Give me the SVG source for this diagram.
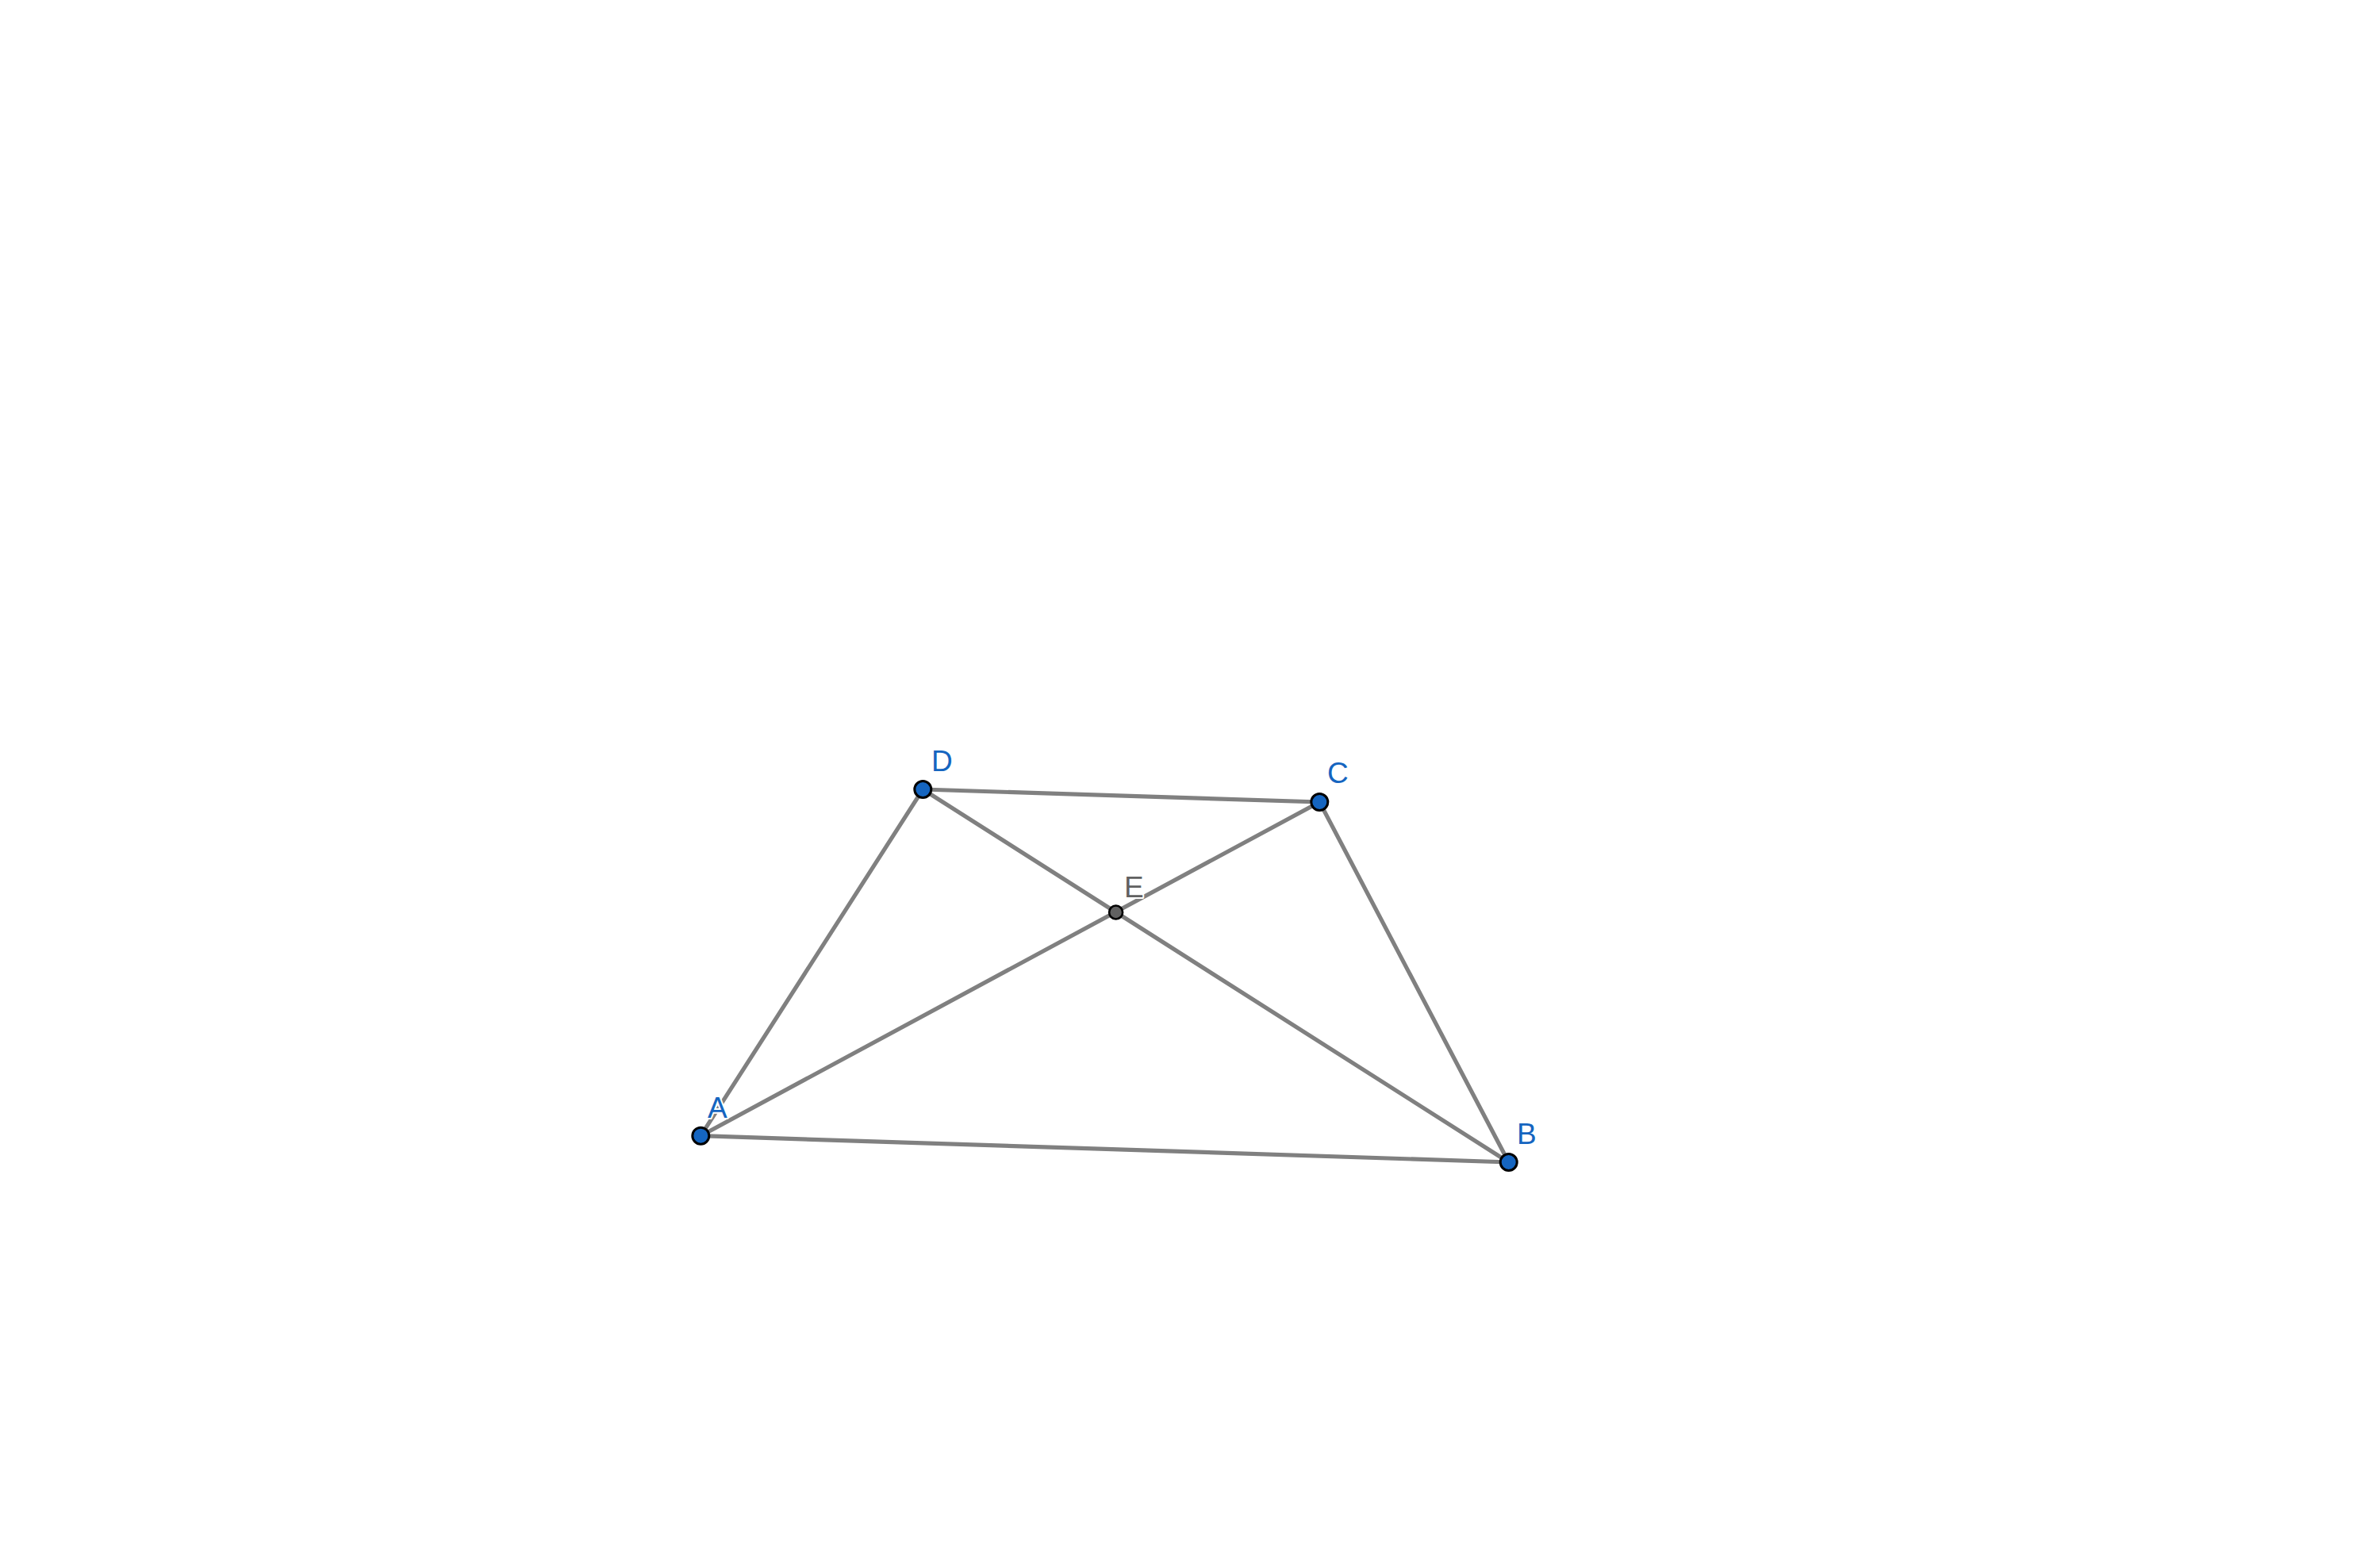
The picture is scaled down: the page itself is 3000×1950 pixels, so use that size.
<svg xmlns="http://www.w3.org/2000/svg" width="3000" height="1950" viewBox="0 0 3000 1950">
<style>
.seg{stroke:#808080;stroke-width:5.2;stroke-linecap:round;fill:none}
.pt{fill:#1565c0;stroke:#000;stroke-width:3}
.pte{fill:#616161;stroke:#000;stroke-width:2.6}
.lbl{font-family:"Liberation Sans",Arial,sans-serif;font-size:37px;fill:#1565c0;stroke:#fff;stroke-width:4;paint-order:stroke;stroke-linejoin:round}
.lble{fill:#616161}
</style>
<rect width="3000" height="1950" fill="#fff"/>
<g id="connectors">
<line class="seg" x1="883.3" y1="1431.7" x2="1163.3" y2="995"/>
<line class="seg" x1="1163.3" y1="995" x2="1663.3" y2="1011"/>
<line class="seg" x1="1663.3" y1="1011" x2="1901.7" y2="1465"/>
<line class="seg" x1="883.3" y1="1431.7" x2="1901.7" y2="1465"/>
<line class="seg" x1="883.3" y1="1431.7" x2="1663.3" y2="1011"/>
<line class="seg" x1="1163.3" y1="995" x2="1901.7" y2="1465"/>
</g>
<g id="E">
<circle class="pte" cx="1406.6" cy="1150" r="8.5"/>
<text class="lbl lble" x="1417" y="1131">E</text>
</g>
<g id="A">
<circle class="pt" cx="883.3" cy="1431.7" r="10.5"/>
<text class="lbl" x="892" y="1409">A</text>
</g>
<g id="B">
<circle class="pt" cx="1901.7" cy="1465" r="10.5"/>
<text class="lbl" x="1912" y="1442">B</text>
</g>
<g id="C">
<circle class="pt" cx="1663.3" cy="1011" r="10.5"/>
<text class="lbl" x="1673" y="987">C</text>
</g>
<g id="D">
<circle class="pt" cx="1163.3" cy="995" r="10.5"/>
<text class="lbl" x="1174" y="972">D</text>
</g>
</svg>
